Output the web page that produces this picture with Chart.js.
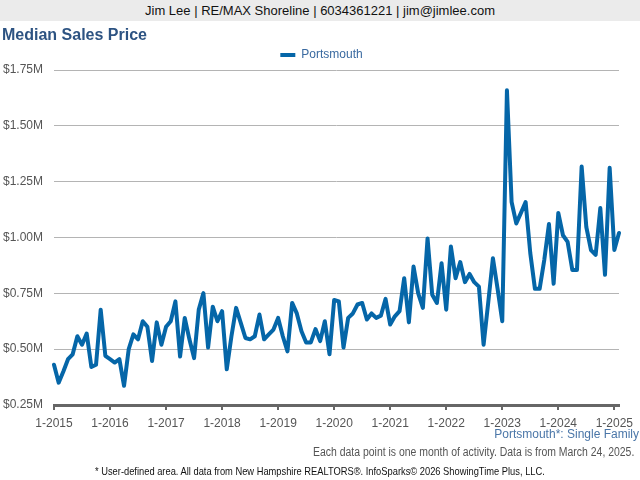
<!DOCTYPE html>
<html>
<head>
<meta charset="utf-8">
<script src="https://cdn.jsdelivr.net/npm/chart.js@4.4.1/dist/chart.umd.min.js"></script>
<style>
  html, body { margin: 0; padding: 0; background: #ffffff; }
  #wrap { position: relative; width: 640px; height: 480px; overflow: hidden; font-family: Arial, "Liberation Sans", sans-serif; }
  #chart { position: absolute; left: 0; top: 0; }
  .txt { position: absolute; white-space: nowrap; }
  #banner { left: 0; top: 0; width: 640px; height: 21px; line-height: 21px; background: #ebebeb; text-align: center; font-size: 13px; color: #111; }
  #title { left: 2px; top: 27px; font-size: 16px; line-height: 16px; font-weight: bold; color: #2d5382; }
  #area { right: 1px; top: 427px; font-size: 12px; line-height: 14px; color: #4a76a8; }
  #note { right: 6px; top: 445px; font-size: 12px; line-height: 14px; color: #555; transform-origin: right center; }
  #foot { left: 95px; top: 464px; font-size: 11px; line-height: 14px; color: #111; transform-origin: left center; }
</style>
</head>
<body>
<div id="wrap">
  <canvas id="chart" width="640" height="480"></canvas>
  <div class="txt" id="banner">Jim Lee | RE/MAX Shoreline | 6034361221 | jim@jimlee.com</div>
  <div class="txt" id="title">Median Sales Price</div>
  <div class="txt" id="area">Portsmouth*: Single Family</div>
  <div class="txt" id="note">Each data point is one month of activity. Data is from March 24, 2025.</div>
  <div class="txt" id="foot">* User-defined area. All data from New Hampshire REALTORS®. InfoSparks© 2026 ShowingTime Plus, LLC.</div>
</div>
<script>
// Years shown on the time axis (January of each year gets a tick label)
const years = ['2015','2016','2017','2018','2019','2020','2021','2022','2023','2024','2025'];
const seriesName = 'Portsmouth';
// Monthly median sales price, in millions of dollars (Jan 2015 .. Feb 2025)
const medianPrice = [
  0.43, 0.35, 0.40, 0.455, 0.477, 0.558, 0.52, 0.57, 0.42, 0.43, 0.677, 0.47,
  0.455, 0.44, 0.455, 0.336, 0.50, 0.566, 0.544, 0.625, 0.60, 0.447, 0.62, 0.52,
  0.60, 0.625, 0.714, 0.467, 0.64, 0.544, 0.46, 0.677, 0.751, 0.507, 0.69, 0.625,
  0.67, 0.41, 0.558, 0.685, 0.618, 0.55, 0.544, 0.558, 0.655, 0.544, 0.566, 0.588,
  0.64, 0.558, 0.49, 0.707, 0.66, 0.58, 0.53, 0.53, 0.59, 0.536, 0.625, 0.477,
  0.72, 0.714, 0.507, 0.64, 0.66, 0.70, 0.707, 0.633, 0.66, 0.64, 0.65, 0.725,
  0.61, 0.647, 0.67, 0.818, 0.62, 0.87, 0.75, 0.685, 0.996, 0.744, 0.707, 0.885,
  0.677, 0.96, 0.818, 0.89, 0.80, 0.837, 0.80, 0.78, 0.52, 0.71, 0.907, 0.77,
  0.625, 1.659, 1.159, 1.063, 1.11, 1.159, 0.93, 0.77, 0.77, 0.90, 1.06, 0.793,
  1.11, 1.01, 0.98, 0.855, 0.855, 1.318, 1.047, 0.944, 0.922, 1.132, 0.833, 1.312,
  0.944, 1.02
];
// Month labels "M-YYYY" for each data point
const monthLabels = [];
for (const y of years) {
  for (let m = 1; m <= 12; m++) {
    if (monthLabels.length < medianPrice.length) monthLabels.push(m + '-' + y);
  }
}

const lineColor = '#0566a8';

// condense the two small footer lines to the narrow width of the original
function condense(id, targetWidth) {
  const el = document.getElementById(id);
  el.style.transform = 'scaleX(' + (targetWidth / el.offsetWidth) + ')';
}
condense('note', 321);
condense('foot', 450);

const shiftLegend = {
  id: 'shiftLegend',
  afterLayout(chart) {
    if (chart.legend) { chart.legend.left += 12; chart.legend.right += 12; chart.legend.top += 1; chart.legend.bottom += 1; }
  }
};

new Chart(document.getElementById('chart'), {
  type: 'line',
  data: {
    labels: monthLabels,
    datasets: [{
      label: seriesName,
      data: medianPrice,
      borderColor: lineColor,
      backgroundColor: lineColor,
      borderWidth: 4,
      pointRadius: 0,
      pointHoverRadius: 0,
      tension: 0,
      fill: false,
      borderJoinStyle: 'round',
      borderCapStyle: 'round'
    }]
  },
  plugins: [shiftLegend],
  options: {
    responsive: false,
    animation: false,
    layout: { padding: { top: 38, right: 21, bottom: 45, left: 0 } },
    plugins: {
      tooltip: { enabled: false },
      legend: {
        display: true,
        position: 'top',
        labels: {
          boxWidth: 15,
          boxHeight: 4,
          color: '#3a6aa0',
          font: { family: 'Arial, "Liberation Sans", sans-serif', size: 12 },
          generateLabels(chart) {
            const items = Chart.defaults.plugins.legend.labels.generateLabels(chart);
            items.forEach(it => { it.lineWidth = 0; it.strokeStyle = 'rgba(0,0,0,0)'; it.fillStyle = lineColor; });
            return items;
          }
        }
      }
    },
    scales: {
      x: {
        type: 'category',
        offset: false,
        ticks: {
          autoSkip: false,
          maxRotation: 0,
          minRotation: 0,
          padding: 6,
          color: '#555',
          font: { family: 'Arial, "Liberation Sans", sans-serif', size: 12 },
          callback: function (val, idx) {
            const l = monthLabels[idx];
            return l && l.startsWith('1-') ? l : null;
          }
        },
        grid: { drawOnChartArea: false, drawTicks: true, tickLength: 5, color: '#666', lineWidth: 2 },
        border: { display: true, color: '#666', width: 3 },
        afterFit(s) { s.height = 30; s.paddingLeft = 0; s.paddingRight = 0; }
      },
      y: {
        min: 0.25,
        max: 1.75,
        ticks: {
          stepSize: 0.25,
          padding: 11,
          color: '#555',
          font: { family: 'Arial, "Liberation Sans", sans-serif', size: 12 },
          callback: v => '$' + Number(v).toFixed(2) + 'M'
        },
        grid: { color: '#b4b4b4', lineWidth: 1, drawTicks: false },
        border: { display: false },
        afterFit(s) { s.width = 54; s.paddingTop = 0; s.paddingBottom = 0; }
      }
    }
  }
});
</script>
</body>
</html>
